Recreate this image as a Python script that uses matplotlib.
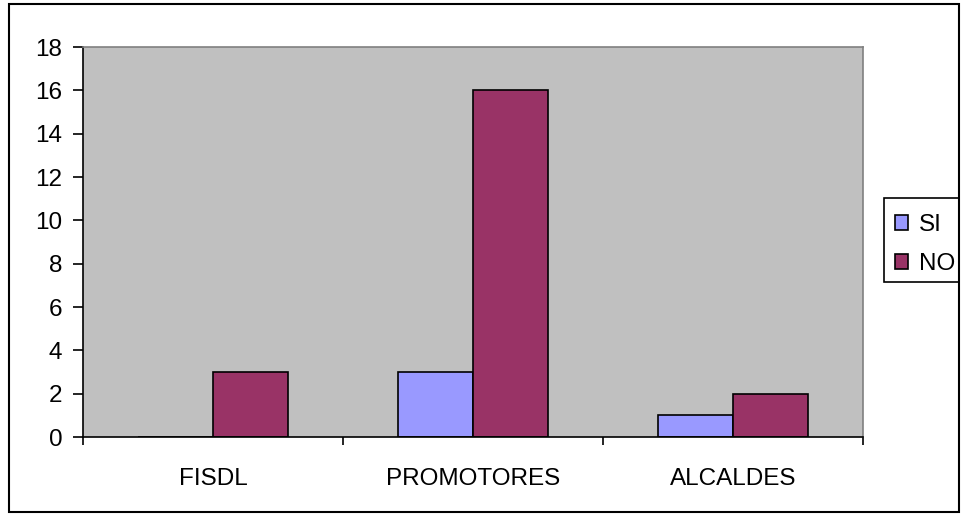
import numpy as np
import matplotlib.pyplot as plt
from matplotlib.patches import Rectangle

plt.rcParams['font.family'] = ['Liberation Sans', 'DejaVu Sans']

# Data
categories = ["FISDL", "PROMOTORES", "ALCALDES"]
si_values = [0, 3, 1]
no_values = [3, 16, 2]
series_names = ["SI", "NO"]
colors = ["#9999FF", "#993366"]

fs = 17.5

fig = plt.figure(figsize=(9.61, 5.16), dpi=100)
fig.patch.set_facecolor("white")
# outer border of the chart
fig.add_artist(Rectangle((0.0094, 0.008), 0.988, 0.984, transform=fig.transFigure,
                         fill=False, edgecolor="black", linewidth=1.5))

ax = fig.add_axes([0.0864, 0.1531, 0.8116, 0.7558])
ax.set_facecolor("#C0C0C0")

x = np.arange(len(categories))
w = 0.2885
ax.bar(x - w / 2, si_values, w, color=colors[0], edgecolor="black", linewidth=1.2, label=series_names[0])
ax.bar(x + w / 2, no_values, w, color=colors[1], edgecolor="black", linewidth=1.2, label=series_names[1])

ax.set_xlim(-0.5, len(categories) - 0.5)
ax.set_ylim(0, 18)
ax.set_yticks(np.arange(0, 19, 2))

# category boundaries as x ticks, labels centered in between
ax.set_xticks(np.arange(-0.5, len(categories), 1))
ax.set_xticklabels([])
ax.set_xticks(x, minor=True)
ax.set_xticklabels(categories, minor=True)
ax.tick_params(axis="x", which="major", direction="out", length=6, width=1.2, color="black")
ax.tick_params(axis="x", which="minor", length=0, pad=22, labelsize=fs)
ax.tick_params(axis="y", direction="out", length=7, width=1.2, pad=8, labelsize=fs)

for side in ["left", "bottom"]:
    ax.spines[side].set_color("black")
    ax.spines[side].set_linewidth(1.2)
for side in ["top", "right"]:
    ax.spines[side].set_color("#808080")
    ax.spines[side].set_linewidth(1.2)

# legend box drawn separately so it can touch the chart border like the original
fig.add_artist(Rectangle((0.9199, 0.4535), 0.078, 0.1628, transform=fig.transFigure,
                         fill=False, edgecolor="black", linewidth=1.2))
leg = fig.legend(loc="upper left", bbox_to_anchor=(0.9313, 0.5853), frameon=False,
                 fontsize=fs, handlelength=0.55, handleheight=0.55,
                 handletextpad=0.45, borderpad=0, labelspacing=0.7, borderaxespad=0)

plt.savefig("out.png", dpi=100)
